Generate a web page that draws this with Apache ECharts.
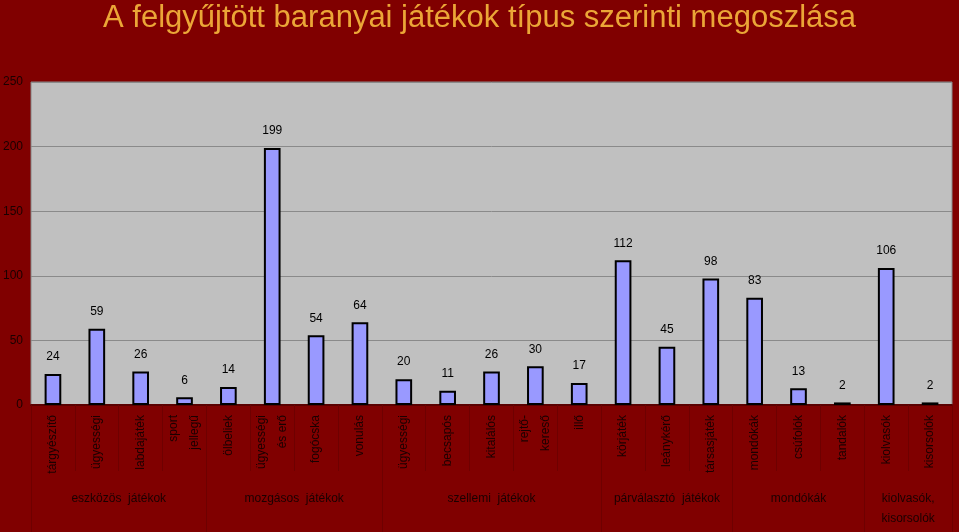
<!DOCTYPE html>
<html>
<head>
<meta charset="utf-8">
<script src="https://cdn.jsdelivr.net/npm/echarts@6/dist/echarts.min.js"></script>
<style>
html,body{margin:0;padding:0;background:#800000;}
#c{width:959px;height:532px;}
</style>
</head>
<body>
<div id="c"></div>
<script>
var titleText = 'A felgyűjtött baranyai játékok típus szerinti megoszlása';
var categories = ['tárgyészítő','ügyességi','labdajáték','sport\njellegű','ölbeliek','ügyességi\nés erő','fogócska','vonulás','ügyességi','becsapós','kitalálós','rejtő-\nkereső','illő','körjáték','leánykérő','társasjáték','mondókák','csúfolók','tandalók','kiolvasók','kisorsolók'];
var values = [24,59,26,6,14,199,54,64,20,11,26,30,17,112,45,98,83,13,2,106,2];
var groupNames = ['eszközös  játékok','mozgásos  játékok','szellemi  játékok','párválasztó  játékok','mondókák','kiolvasók,\nkisorsolók'];
var groupCounts = [4,4,5,3,3,2];
var yTicks = [0,50,100,150,200,250];

// build half-category positions for group axis
var n = categories.length;
var halfData = [];
for (var i = 0; i <= 2*n; i++) halfData.push('');
var sepIdx = {0:true}, labelIdx = {};
var start = 0;
groupNames.forEach(function(g, k){
  var end = start + groupCounts[k];
  labelIdx[start + end] = g; // center in half units
  sepIdx[2*end] = true;
  start = end;
});
Object.keys(labelIdx).forEach(function(j){ halfData[j] = labelIdx[j]; });

var chart = echarts.init(document.getElementById('c'));
chart.setOption({
  backgroundColor: '#800000',
  animation: false,
  title: {
    text: titleText,
    left: 'center',
    top: -2,
    textStyle: {color: '#EBA637', fontSize: 31, fontWeight: 'normal', fontFamily: 'Liberation Sans'}
  },
  grid: {
    left: 28, right: 7, top: 82, bottom: 127,
    show: true, backgroundColor: '#C0C0C0', borderColor: '#8a8a8a', borderWidth: 1
  },
  xAxis: [{
    type: 'category',
    data: categories,
    position: 'bottom',
    axisLine: {show: true, lineStyle: {color: '#5a0000', width: 2}},
    axisTick: {show: true, length: 66, lineStyle: {color: '#6e0000', width: 1}},
    axisLabel: {rotate: 90, color: '#1a0000', fontSize: 12, fontFamily: 'Liberation Sans', margin: 10, lineHeight: 21, interval: 0}
  }, {
    type: 'category',
    data: halfData,
    position: 'bottom',
    boundaryGap: false,
    axisLine: {show: false},
    axisTick: {show: true, length: 127, lineStyle: {color: '#6e0000', width: 1},
      interval: function(idx){ return !!sepIdx[idx]; }},
    axisLabel: {color: '#1a0000', fontSize: 12, fontFamily: 'Liberation Sans', margin: 84, lineHeight: 20,
      interval: function(idx, val){ return val !== ''; }}
  }],
  yAxis: {
    type: 'value',
    min: yTicks[0], max: yTicks[yTicks.length-1], interval: 50,
    axisLine: {show: false},
    axisTick: {show: false},
    axisLabel: {color: '#1a0000', fontSize: 12, fontFamily: 'Liberation Sans', margin: 8},
    splitLine: {lineStyle: {color: '#8a8a8a', width: 1}}
  },
  series: [{
    type: 'bar',
    data: values,
    barWidth: '38%',
    itemStyle: {color: '#9999FF', borderColor: '#000000', borderWidth: 2},
    label: {show: true, position: 'top', distance: 11, color: '#000', fontSize: 12, fontFamily: 'Liberation Sans'}
  }]
});
</script>
</body>
</html>
